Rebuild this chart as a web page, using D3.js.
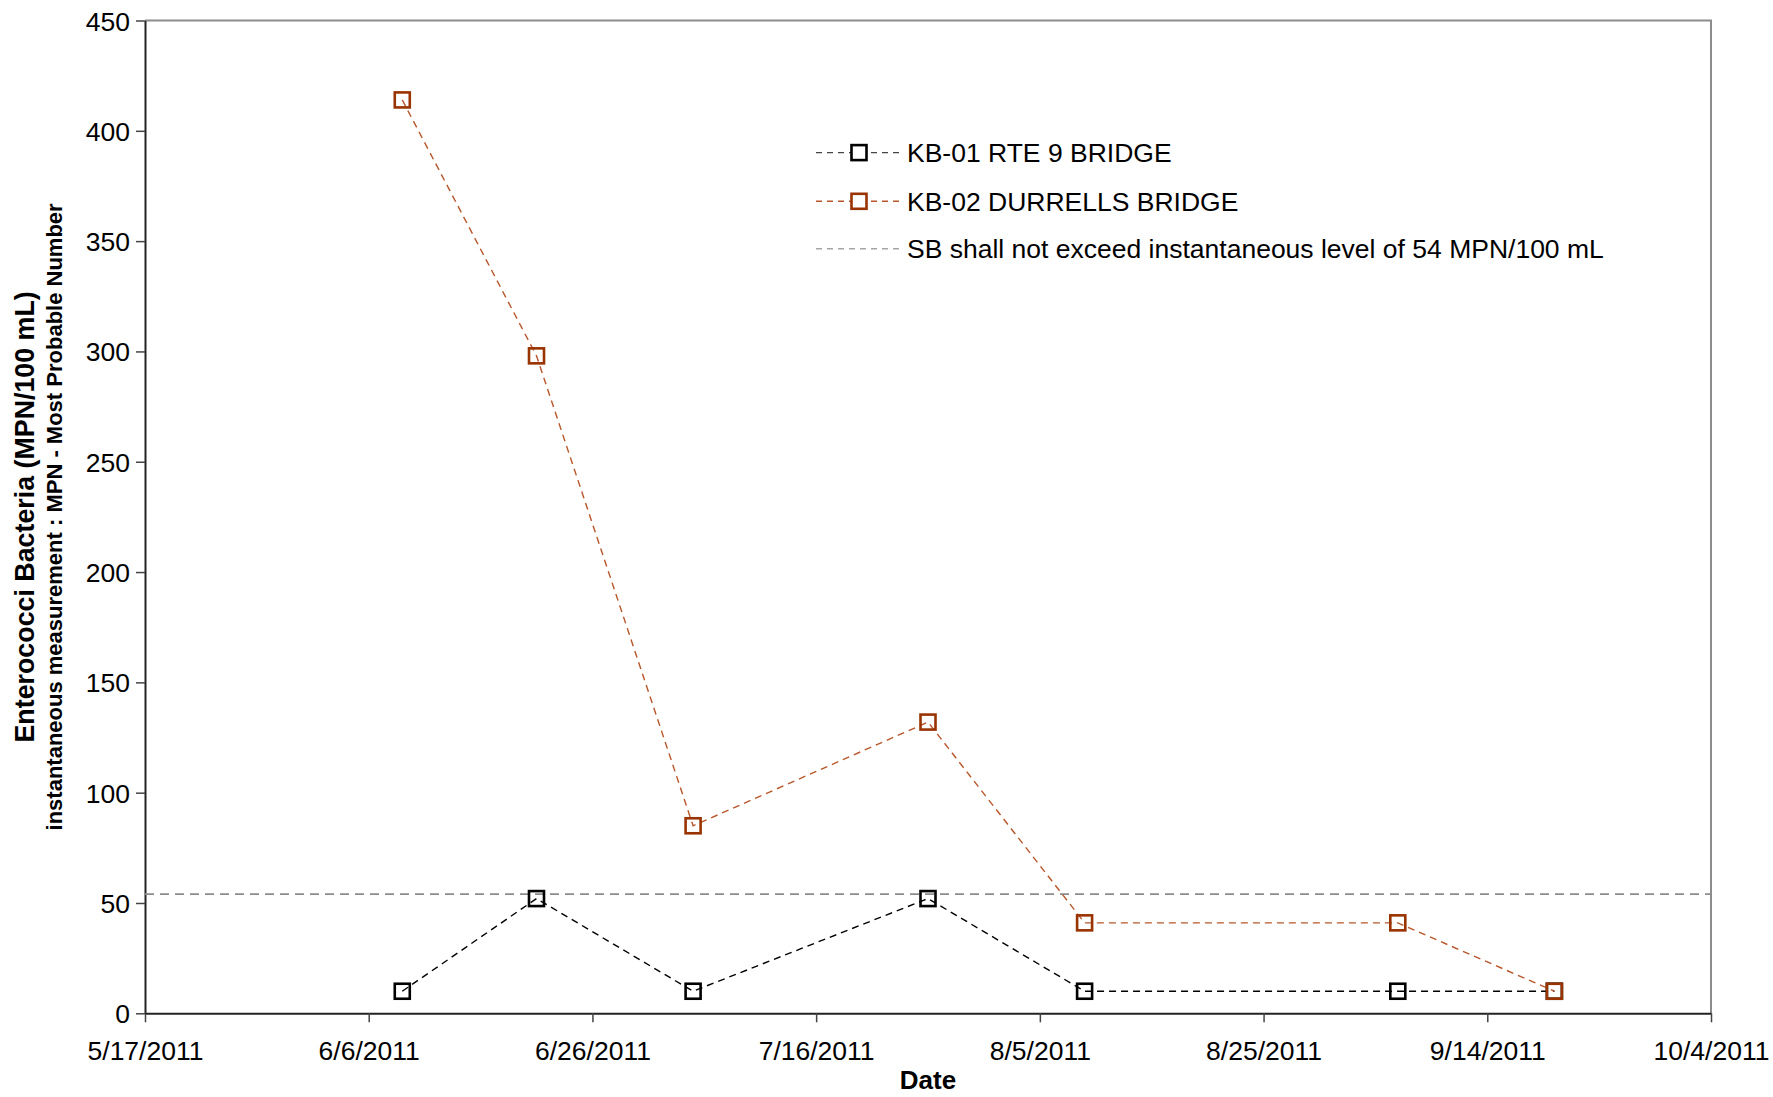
<!DOCTYPE html>
<html>
<head>
<meta charset="utf-8">
<script src="https://cdn.jsdelivr.net/npm/d3@7"></script>
<style>
  html, body { margin: 0; padding: 0; background: #fff; }
  svg { display: block; font-family: "Liberation Sans", Arial, sans-serif; }
</style>
</head>
<body>
<svg id="chart" width="1773" height="1097"></svg>
<script>
// Sampling dates and enterococci counts (MPN/100 mL)
const kb01Dates  = ["6/9/2011", "6/21/2011", "7/5/2011", "7/26/2011", "8/9/2011", "9/6/2011", "9/20/2011"];
const kb01Values = [10, 52, 10, 52, 10, 10, 10];
const kb02Dates  = ["6/9/2011", "6/21/2011", "7/5/2011", "7/26/2011", "8/9/2011", "9/6/2011", "9/20/2011"];
const kb02Values = [414, 298, 85, 132, 41, 41, 10];
const standardLevel = 54;

const xTickLabels = ["5/17/2011", "6/6/2011", "6/26/2011", "7/16/2011", "8/5/2011", "8/25/2011", "9/14/2011", "10/4/2011"];
const yTickValues = [0, 50, 100, 150, 200, 250, 300, 350, 400, 450];

const seriesNames = ["KB-01 RTE 9 BRIDGE", "KB-02 DURRELLS BRIDGE", "SB shall not exceed instantaneous level of 54 MPN/100 mL"];

const parse = d3.timeParse("%m/%d/%Y");
const fmt = d => (d.getMonth() + 1) + "/" + d.getDate() + "/" + d.getFullYear();

const svg = d3.select("#chart");
const plot = { left: 145, right: 1711, top: 20.5, bottom: 1013.3 };
const labelSize = 26.5;

const x = d3.scaleTime()
  .domain([parse(xTickLabels[0]), parse(xTickLabels[xTickLabels.length - 1])])
  .range([plot.left, plot.right]);
const y = d3.scaleLinear().domain([0, 450]).range([plot.bottom, plot.top]);

// Plot frame: gray top/right border
svg.append("path")
  .attr("d", `M${plot.left},${plot.top}H${plot.right}V${plot.bottom}`)
  .attr("fill", "none").attr("stroke", "#8c8c8c").attr("stroke-width", 2);

// Axes
const xAxis = d3.axisBottom(x)
  .tickValues(xTickLabels.map(parse))
  .tickFormat(fmt)
  .tickSize(9).tickSizeOuter(0).tickPadding(19);
const gx = svg.append("g").attr("transform", `translate(0,${plot.bottom})`).call(xAxis);

const yAxis = d3.axisLeft(y)
  .tickValues(yTickValues)
  .tickSize(9).tickSizeOuter(0).tickPadding(6);
const gy = svg.append("g").attr("transform", `translate(${plot.left},0)`).call(yAxis);

[gx, gy].forEach(g => {
  g.select(".domain").attr("stroke", "#222").attr("stroke-width", 2);
  g.selectAll(".tick line").attr("stroke", "#444").attr("stroke-width", 1.5);
  g.selectAll(".tick text").attr("fill", "#000").attr("font-size", labelSize)
    .attr("font-family", "'Liberation Sans', Arial, sans-serif");
});
gy.selectAll(".tick text").attr("dy", "0.36em");

// Axis titles
svg.append("text")
  .attr("x", (plot.left + plot.right) / 2).attr("y", 1089)
  .attr("text-anchor", "middle").attr("font-size", 26).attr("font-weight", "bold")
  .text("Date");

const midY = (plot.top + plot.bottom) / 2;
svg.append("text")
  .attr("transform", `translate(34,${midY}) rotate(-90)`)
  .attr("text-anchor", "middle").attr("font-size", 26.8).attr("font-weight", "bold")
  .text("Enterococci Bacteria (MPN/100 mL)");
svg.append("text")
  .attr("transform", `translate(62,${midY}) rotate(-90)`)
  .attr("text-anchor", "middle").attr("font-size", 22).attr("font-weight", "bold")
  .text("instantaneous measurement : MPN - Most Probable Number");

// Standard threshold line
svg.append("line")
  .attr("x1", plot.left).attr("x2", plot.right)
  .attr("y1", y(standardLevel)).attr("y2", y(standardLevel))
  .attr("stroke", "#8c8c8c").attr("stroke-width", 1.6).attr("stroke-dasharray", "9,6");

const line = d3.line().x(d => x(d.date)).y(d => y(d.value));
const markerSize = 15;

function drawSeries(dates, values, lineColor, markerColor) {
  const data = dates.map((d, i) => ({ date: parse(d), value: values[i] }));
  const g = svg.append("g");
  g.append("path").datum(data).attr("d", line)
    .attr("fill", "none").attr("stroke", lineColor)
    .attr("stroke-width", 1.4).attr("stroke-dasharray", "7,5");
  g.selectAll("rect").data(data).join("rect")
    .attr("x", d => x(d.date) - markerSize / 2)
    .attr("y", d => y(d.value) - markerSize / 2)
    .attr("width", markerSize).attr("height", markerSize)
    .attr("fill", "none").attr("stroke", markerColor).attr("stroke-width", 2.6);
}

drawSeries(kb01Dates, kb01Values, "#000", "#000");
drawSeries(kb02Dates, kb02Values, "#b8562a", "#993300");

// Legend
const legend = svg.append("g");
const legendRows = [
  { name: seriesNames[0], line: "#444", marker: "#000", y: 152.6 },
  { name: seriesNames[1], line: "#b8562a", marker: "#993300", y: 201.3 },
  { name: seriesNames[2], line: "#a6a6a6", marker: null, y: 248.8 }
];
legendRows.forEach(r => {
  legend.append("line")
    .attr("x1", 816).attr("x2", 902).attr("y1", r.y).attr("y2", r.y)
    .attr("stroke", r.line).attr("stroke-width", 1.4).attr("stroke-dasharray", "6,5");
  if (r.marker) {
    legend.append("rect")
      .attr("x", 859 - markerSize / 2).attr("y", r.y - markerSize / 2)
      .attr("width", markerSize).attr("height", markerSize)
      .attr("fill", "#fff").attr("stroke", r.marker).attr("stroke-width", 2.6);
  }
  legend.append("text")
    .attr("x", 907).attr("y", r.y).attr("dy", "0.36em")
    .attr("font-size", labelSize).text(r.name);
});
</script>
</body>
</html>
